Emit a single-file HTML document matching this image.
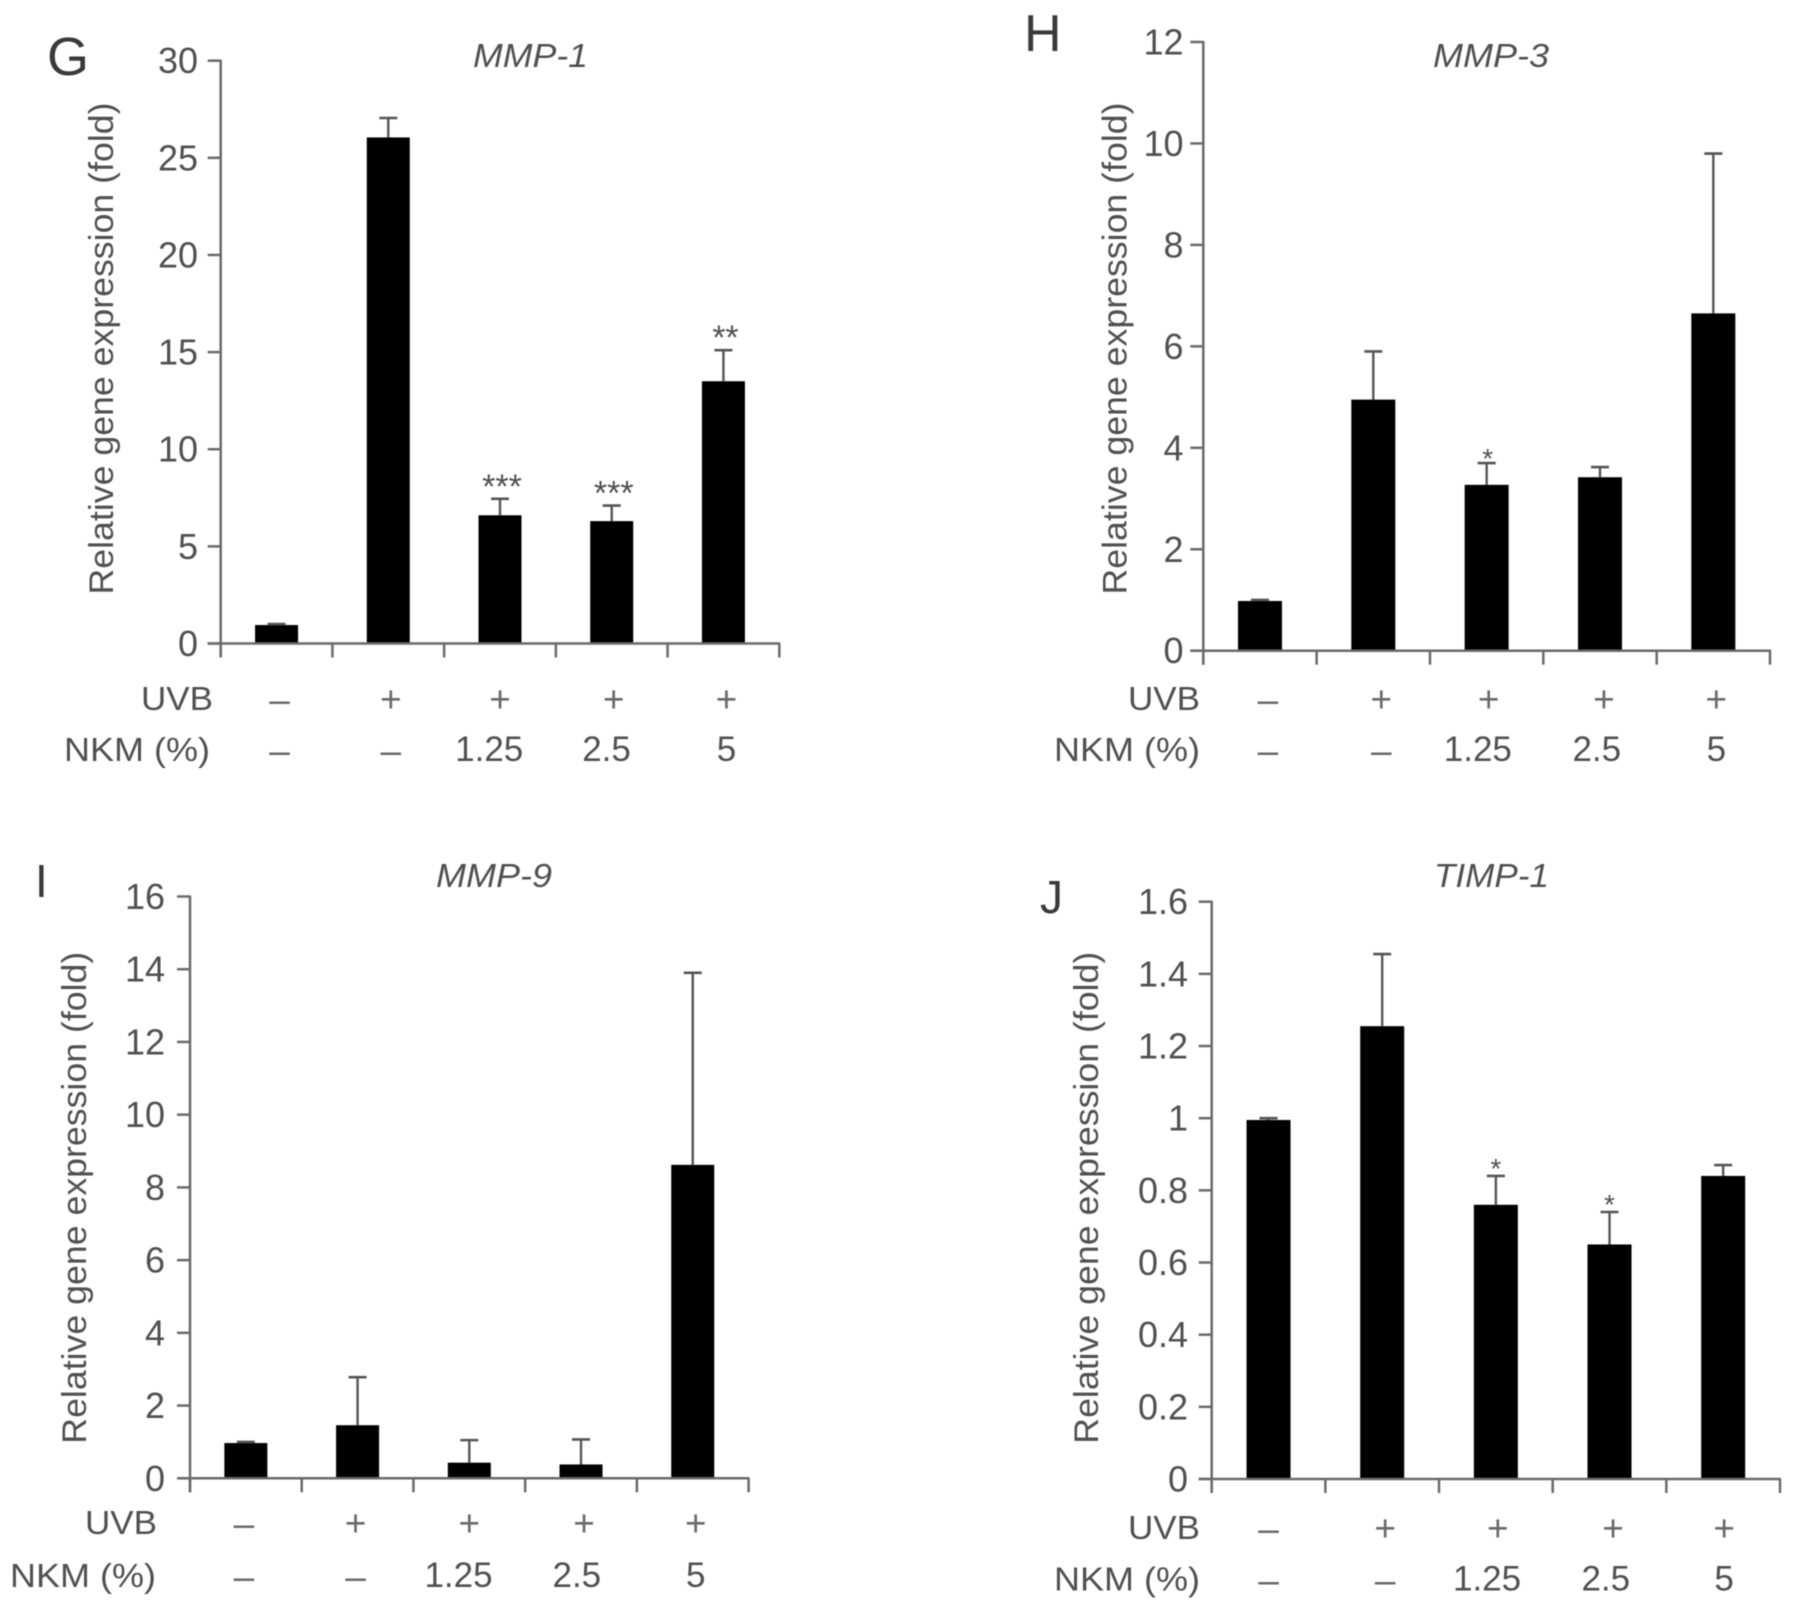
<!DOCTYPE html>
<html lang="en">
<head>
<meta charset="utf-8">
<title>Relative gene expression panels</title>
<style>
html,body{margin:0;padding:0;background:#fff;}
#figure{display:block;width:1795px;height:1612px;filter:blur(0.55px);}
text{font-family:"Liberation Sans",sans-serif;fill:#505050;}
</style>
</head>
<body>
<svg id="figure" xmlns="http://www.w3.org/2000/svg" width="1795" height="1612" viewBox="0 0 1795 1612"></svg>
<script>
const uvbLabels = ['–', '+', '+', '+', '+'];
const nkmLabels = ['–', '–', '1.25', '2.5', '5'];

const mmp1Ticks = ['0', '5', '10', '15', '20', '25', '30'];
const mmp1Values = [0.95, 26.05, 6.6, 6.3, 13.5];
const mmp1ErrorTops = [1.0, 27.05, 7.45, 7.1, 15.1];
const mmp1Stars = ['', '', '***', '***', '**'];

const mmp3Ticks = ['0', '2', '4', '6', '8', '10', '12'];
const mmp3Values = [0.98, 4.95, 3.27, 3.42, 6.65];
const mmp3ErrorTops = [1.0, 5.9, 3.7, 3.62, 9.8];
const mmp3Stars = ['', '', '*', '', ''];

const mmp9Ticks = ['0', '2', '4', '6', '8', '10', '12', '14', '16'];
const mmp9Values = [0.97, 1.46, 0.43, 0.38, 8.62];
const mmp9ErrorTops = [1.0, 2.78, 1.05, 1.07, 13.9];
const mmp9Stars = ['', '', '', '', ''];

const timp1Ticks = ['0', '0.2', '0.4', '0.6', '0.8', '1', '1.2', '1.4', '1.6'];
const timp1Values = [0.995, 1.255, 0.76, 0.65, 0.84];
const timp1ErrorTops = [1.0, 1.455, 0.84, 0.74, 0.87];
const timp1Stars = ['', '', '*', '*', ''];

const NS = 'http://www.w3.org/2000/svg';
const root = document.getElementById('figure');

function make(parent, tag, attrs, content) {
  const el = document.createElementNS(NS, tag);
  for (const k in attrs) el.setAttribute(k, attrs[k]);
  if (content !== undefined) el.textContent = content;
  parent.appendChild(el);
  return el;
}

function drawPanel(p) {
  const group = make(root, 'g', {});
  
  

  const tickNums = p.ticks.map(parseFloat);
  const yMax = Math.max.apply(null, tickNums);
  const yScale = v => p.y0 - (v / yMax) * (p.y0 - p.yTop);
  const band = (p.x1 - p.x0) / p.values.length;
  const xCenter = i => p.x0 + band * (i + 0.5);
  const axisColor = '#6a6a6a';

  const letter = make(group, 'text', {x: p.letterX, y: p.letterY, 'font-size': p.letterSize, style: 'fill:#3a3a3a'}, p.letter);
  
  

  const title = make(group, 'text', {x: p.titleX, y: p.titleY, 'font-size': 33, 'font-style': 'italic', textLength: p.titleW, lengthAdjust: 'spacingAndGlyphs'}, p.title);
  
  

  const yTitle = make(group, 'text', {x: p.yTitleX, y: p.yTitleY, 'font-size': 34.5, 'text-anchor': 'middle', textLength: 492, lengthAdjust: 'spacingAndGlyphs', transform: 'rotate(-90 ' + p.yTitleX + ' ' + p.yTitleY + ')'}, 'Relative gene expression (fold)');
  
  

  p.values.forEach((v, i) => {
    const bar = make(group, 'rect', {x: xCenter(i) - p.barW / 2, y: yScale(v), width: p.barW, height: p.y0 - yScale(v), fill: '#000'});
    
    

    const stem = make(group, 'line', {x1: xCenter(i), x2: xCenter(i), y1: yScale(v), y2: yScale(p.errorTops[i]), stroke: '#555', 'stroke-width': 2.4});
    
    

    const cap = make(group, 'line', {x1: xCenter(i) - 9, x2: xCenter(i) + 9, y1: yScale(p.errorTops[i]), y2: yScale(p.errorTops[i]), stroke: '#555', 'stroke-width': 2.6});
    
    

    if (p.stars[i]) {
      const star = make(group, 'text', {x: xCenter(i) + p.starDx, y: yScale(p.errorTops[i]) + p.starDy, 'font-size': p.starSize, 'text-anchor': 'middle'}, p.stars[i]);
      
      
    }
  });

  const yAxis = make(group, 'line', {x1: p.x0, x2: p.x0, y1: p.yTop - 1, y2: p.y0 + 14, stroke: axisColor, 'stroke-width': 2.5});
  
  

  const xAxis = make(group, 'line', {x1: p.x0 - 13, x2: p.x1 + 1, y1: p.y0, y2: p.y0, stroke: axisColor, 'stroke-width': 2.5});
  
  

  p.ticks.forEach(t => {
    const mark = make(group, 'line', {x1: p.x0 - 13, x2: p.x0, y1: yScale(parseFloat(t)), y2: yScale(parseFloat(t)), stroke: axisColor, 'stroke-width': 2.5});
    
    

    const label = make(group, 'text', {x: p.tickEnd, y: yScale(parseFloat(t)) + 12.5, 'font-size': 36, 'text-anchor': 'end'}, t);
    
    
  });

  for (let i = 0; i <= p.values.length; i++) {
    const xt = make(group, 'line', {x1: p.x0 + band * i, x2: p.x0 + band * i, y1: p.y0, y2: p.y0 + 14, stroke: axisColor, 'stroke-width': 2.5});
    
    
  }

  const uvbTitle = make(group, 'text', {x: p.uvbX, y: p.uvbY, 'font-size': 33, textLength: 72, lengthAdjust: 'spacingAndGlyphs'}, 'UVB');
  
  

  const nkmTitle = make(group, 'text', {x: p.nkmX, y: p.nkmY, 'font-size': 33, textLength: 146, lengthAdjust: 'spacingAndGlyphs'}, 'NKM (%)');
  
  

  uvbLabels.forEach((s, i) => {
    const cell = make(group, 'text', {x: xCenter(i) + p.nudge[i], y: p.uvbY + 2, 'font-size': 37, 'text-anchor': 'middle', style: 'fill:#6a6a6a'}, s);
    
    
  });

  nkmLabels.forEach((s, i) => {
    const shift = -(s.length - 1) * 3.6;
    const isDash = s === '–';
    const cell = make(group, 'text', {x: xCenter(i) + p.nudge[i] + shift, y: p.nkmY + (isDash ? 2 : 0), 'font-size': isDash ? 37 : 35, 'text-anchor': 'middle', style: isDash ? 'fill:#6a6a6a' : ''}, s);
    
    
  });
}

drawPanel({
  slug: 'mmp-1', letter: 'G', title: 'MMP-1',
  ticks: mmp1Ticks, values: mmp1Values, errorTops: mmp1ErrorTops, stars: mmp1Stars,
  x0: 220.7, x1: 779.3, yTop: 60.7, y0: 643.5, barW: 43,
  letterX: 47, letterY: 75, letterSize: 54, titleX: 473, titleY: 67, titleW: 115,
  yTitleX: 113, yTitleY: 348.5, tickEnd: 198,
  starDx: 2, starDy: -1, starSize: 34,
  uvbX: 141, uvbY: 710, nkmX: 64, nkmY: 761,
  nudge: [3, 2.5, 0, 2, 3]
});

drawPanel({
  slug: 'mmp-3', letter: 'H', title: 'MMP-3',
  ticks: mmp3Ticks, values: mmp3Values, errorTops: mmp3ErrorTops, stars: mmp3Stars,
  x0: 1203.3, x1: 1770, yTop: 42, y0: 650.7, barW: 44,
  letterX: 1024, letterY: 51, letterSize: 52, titleX: 1433, titleY: 67, titleW: 116,
  yTitleX: 1126.5, yTitleY: 348.5, tickEnd: 1183.5,
  starDx: 1, starDy: 5, starSize: 28,
  uvbX: 1128, uvbY: 710, nkmX: 1054, nkmY: 761,
  nudge: [8, 8, 2, 4, 3]
});

drawPanel({
  slug: 'mmp-9', letter: 'I', title: 'MMP-9',
  ticks: mmp9Ticks, values: mmp9Values, errorTops: mmp9ErrorTops, stars: mmp9Stars,
  x0: 190, x1: 748.6, yTop: 896.5, y0: 1478.3, barW: 43,
  letterX: 35, letterY: 897, letterSize: 46, titleX: 436, titleY: 887, titleW: 116,
  yTitleX: 86, yTitleY: 1197.7, tickEnd: 165,
  starDx: 0, starDy: 5, starSize: 28,
  uvbX: 85, uvbY: 1534, nkmX: 10, nkmY: 1587,
  nudge: [-2, -2, 0, 3, 3]
});

drawPanel({
  slug: 'timp-1', letter: 'J', title: 'TIMP-1',
  ticks: timp1Ticks, values: timp1Values, errorTops: timp1ErrorTops, stars: timp1Stars,
  x0: 1211.7, x1: 1780, yTop: 901.7, y0: 1479, barW: 44,
  letterX: 1040, letterY: 913, letterSize: 46, titleX: 1434, titleY: 887, titleW: 115,
  yTitleX: 1098, yTitleY: 1197.7, tickEnd: 1188,
  starDx: 0, starDy: 2, starSize: 28,
  uvbX: 1128, uvbY: 1539, nkmX: 1054, nkmY: 1590.5,
  nudge: [0, 3, 2, 3.5, 1]
});
</script>
</body>
</html>
